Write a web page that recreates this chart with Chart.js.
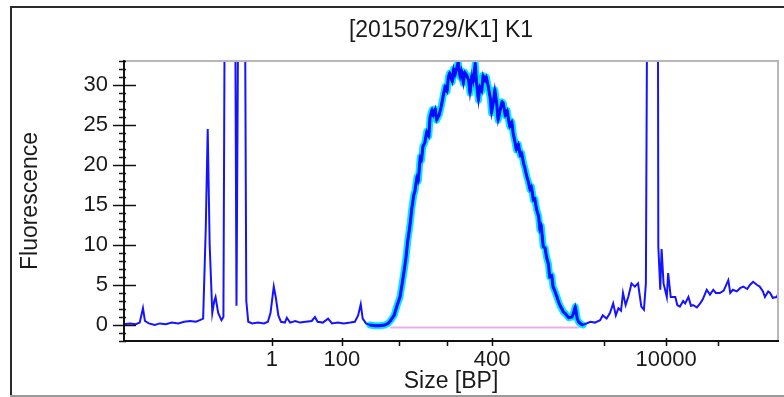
<!DOCTYPE html>
<html>
<head>
<meta charset="utf-8">
<script src="https://cdn.jsdelivr.net/npm/chart.js@4.4.1/dist/chart.umd.min.js"></script>
<style>
  html, body { margin: 0; padding: 0; background: #fff; }
  #wrap { width: 784px; height: 397px; position: relative; }
</style>
</head>
<body>
<div id="wrap"><canvas id="c" width="784" height="397"></canvas></div>
<script>
// ---- DATA ----
const chartTitle = '[20150729/K1] K1';
const xAxisTitle = 'Size [BP]';
const yAxisTitle = 'Fluorescence';

// migration position (arbitrary units) of each sample
const xPos = [
  0, 0.9, 1.8, 2.4, 2.9, 3.2, 3.8, 4.7, 5.5, 6.4, 7.3, 8.3, 9.2, 10.1, 11.0, 11.6,
  12.1, 12.5, 12.8, 13.1, 13.5, 13.8, 14.0, 14.2, 14.4, 14.9, 15.2, 15.5, 16.9, 17.2,
  17.6, 18.4, 18.7, 19.0, 19.6, 20.5, 21.4, 22.0, 22.4, 22.9, 23.2, 23.6, 24.0, 24.6,
  24.9, 25.4, 26.2, 26.9, 27.8, 28.7, 29.2, 29.6, 30.4, 31.2, 31.8, 32.7, 33.6, 34.6,
  35.3, 35.8, 36.2, 36.5, 37.0, 37.6, 38.4, 39.1,
  39.9, 40.4, 40.8, 41.3, 41.7, 42.2, 42.5, 42.8, 43.1, 43.4, 43.7, 44.0, 44.3, 44.5,
  44.8, 45.0, 45.3, 45.5, 45.7, 46.0, 46.3, 46.6, 46.8, 47.1, 47.3, 47.6, 47.8, 48.2,
  48.5, 48.8, 49.1, 49.4, 49.6, 49.8, 50.2, 50.4, 50.6, 50.9, 51.1, 51.4, 51.6, 51.9,
  52.1, 52.4, 52.7, 52.9, 53.2, 53.4, 53.7, 53.9, 54.2, 54.4, 54.7, 54.9, 55.2, 55.4,
  55.7, 56.0, 56.2, 56.5, 56.7, 57.0, 57.2, 57.5, 57.8, 58.0, 58.3, 58.6, 58.8, 59.0,
  59.3, 59.5, 59.8, 60.0, 60.3, 60.6, 60.8, 61.1, 61.3, 61.6, 61.8, 62.1, 62.3, 62.6,
  62.8, 63.1, 63.4, 63.6, 63.8, 64.1, 64.4, 64.6, 64.9, 65.1, 65.4, 65.6, 65.9, 66.2,
  66.4, 66.7, 66.9, 67.2, 67.4, 67.7, 68.0, 68.5, 68.7, 69.0, 69.3, 69.5, 69.9, 70.2,
  71.3, 72.0, 72.8, 73.2, 73.8, 74.3, 74.8, 75.2, 75.6, 76.0, 76.3,
  76.7, 77.1, 77.6, 78.1, 78.6, 79.1, 79.5, 79.8, 80.1, 81.6, 81.7, 82.0, 82.2, 82.5,
  83.0, 83.2, 83.6, 84.3, 84.6, 85.0, 85.5, 85.8, 86.3, 86.7, 87.0, 87.6, 88.1, 88.5,
  89.1, 89.6, 90.1, 90.5, 91.1, 91.7, 92.4, 92.7, 93.1, 93.7, 94.2, 94.7, 95.3, 95.7,
  96.2, 96.8, 97.2, 97.7, 98.0, 98.5, 98.8, 99.2, 99.8, 100
];
// fluorescence reading at each position
const fluor = [
  0.1, 0.2, 0.1, 0.3, 2.1, 0.5, 0.2, 0.0, 0.2, 0.1, 0.3, 0.2, 0.4, 0.5, 0.4, 0.6,
  0.8, 12, 24.5, 10, 1.5, 3.0, 3.5, 2.5, 1.5, 0.6, 1.0, 60, 60, 2.4,
  60, 60, 3, 0.4, 0.2, 0.3, 0.2, 0.4, 1.5, 4.8, 3.5, 1.2, 0.4, 0.3,
  0.9, 0.3, 0.5, 0.3, 0.4, 0.5, 1.0, 0.4, 0.3, 0.8, 0.2, 0.3, 0.2, 0.3,
  0.4, 1.2, 2.6, 0.8, 0.2, 0.0, -0.1, -0.1,
  0.0, 0.2, 0.6, 1.2, 2.3, 3.5, 5.0, 6.6, 8.3, 10.6, 12.3, 14.5, 16.2, 16.8,
  18.5, 18.0, 21.0, 20.6, 22.3, 22.8, 24.2, 23.6, 26.0, 26.9, 26.2, 27.0, 25.6, 26.3,
  27.3, 28.6, 29.8, 29.2, 31.0, 31.5, 30.4, 32.0, 31.2, 32.2, 32.9, 31.0, 31.8, 30.2,
  31.6, 31.2, 30.6, 29.0, 31.2, 30.4, 32.7, 30.3, 28.1, 29.8, 29.2, 31.2, 30.5, 31.0,
  29.8, 28.4, 26.5, 28.0, 29.4, 27.6, 25.6, 26.8, 27.9, 27.7, 26.2, 26.8, 25.6, 24.8,
  25.4, 24.0, 22.8, 21.9, 22.6, 21.2, 21.5, 20.2, 19.6, 18.5, 18.0, 16.9, 17.3, 15.6,
  15.8, 14.4, 13.6, 11.9, 12.4, 9.8, 9.6, 8.5, 7.6, 6.0, 6.2, 4.8, 4.2, 3.5,
  3.0, 2.4, 2.1, 1.6, 1.5, 1.2, 0.9, 1.0, 1.4, 2.3, 0.8, 0.4, 0.1, 0.0,
  0.4, 0.3, 0.6, 1.2, 0.8, 1.5, 2.7, 1.2, 2.1, 1.8, 4.0,
  2.5, 3.5, 5.2, 4.8, 5.2, 2.3, 1.9, 5.2, 60, 60, 9.8, 4.4, 9.5, 5.2,
  3.5, 6.5, 3.5, 3.5, 2.5, 2.3, 3.0, 2.7, 3.5, 2.4, 2.5, 2.2, 2.7, 3.2,
  4.4, 3.8, 4.4, 4.0, 4.0, 4.3, 5.6, 4.0, 4.4, 4.2, 4.6, 4.8, 4.5, 5.0,
  5.4, 5.0, 4.8, 4.2, 3.5, 4.2, 4.0, 3.4, 3.5, 3.8
];

// range of the integrated peak (highlighted) and its baseline
const peakRange = [37.6, 70.2];
const baselineX = [40.7, 69.6];
const baselineY = [-0.3, -0.3];

// axis ticks
const xTickPos = [22.6, 33.3, 42.0, 49.4, 56.3, 73.4, 82.9, 90.8];
const xTickLabels = ['1', '100', '', '', '400', '', '10000', ''];
const yTicks = [0, 5, 10, 15, 20, 25, 30];
const xRange = [0, 100];
const yRange = [-2, 33];

// ---- BUILD ----
const mainPts = xPos.map((x, i) => ({x: x, y: fluor[i]}));
const peakPts = mainPts.filter(p => p.x >= peakRange[0] && p.x <= peakRange[1]);
const basePts = baselineX.map((x, i) => ({x: x, y: baselineY[i]}));

const FONT = '"Liberation Sans", Arial, sans-serif';

const framePlugin = {
  id: 'frame',
  beforeDraw(chart) {
    const ctx = chart.ctx;
    ctx.save();
    ctx.fillStyle = '#fff';
    ctx.fillRect(0, 0, chart.width, chart.height);
    ctx.strokeStyle = '#2a2a2a';
    ctx.lineWidth = 2;
    ctx.beginPath();
    ctx.moveTo(11, 396);
    ctx.lineTo(11, 7);
    ctx.lineTo(chart.width + 5, 7);
    ctx.stroke();
    ctx.strokeStyle = '#9a9a9a';
    ctx.beginPath();
    ctx.moveTo(10, 396);
    ctx.lineTo(chart.width + 5, 396);
    ctx.stroke();
    // title
    ctx.fillStyle = '#1a1a1a';
    ctx.font = '23px ' + FONT;
    ctx.textAlign = 'center';
    ctx.textBaseline = 'middle';
    const a = chart.chartArea;
    ctx.fillText(chartTitle, (a.left + a.right) / 2 - 10, 31);
    ctx.restore();
  },
  afterDatasetsDraw(chart) {
    const ctx = chart.ctx;
    const {left, right, top, bottom} = chart.chartArea;
    const xs = chart.scales.x, ys = chart.scales.y;
    ctx.save();
    ctx.lineWidth = 2;
    ctx.strokeStyle = '#b8b8b8';
    ctx.beginPath();
    ctx.moveTo(left, top);
    ctx.lineTo(right, top);
    ctx.lineTo(right, bottom);
    ctx.stroke();
    ctx.strokeStyle = '#111';
    ctx.beginPath();
    ctx.moveTo(left, top - 1);
    ctx.lineTo(left, bottom);
    ctx.lineTo(right + 1, bottom);
    ctx.stroke();
    // y ticks: major at labels, minor every unit
    ctx.lineWidth = 1.5;
    for (let v = Math.ceil(ys.min); v <= Math.floor(ys.max); v++) {
      const py = Math.round(ys.getPixelForValue(v)) + 0.5;
      ctx.beginPath();
      if (yTicks.includes(v)) {
        ctx.moveTo(left - 11, py);
        ctx.lineTo(left + 12, py);
      } else {
        ctx.moveTo(left - 5, py);
        ctx.lineTo(left + 2, py);
      }
      ctx.stroke();
    }
    // x ticks
    xTickPos.forEach((p, i) => {
      const px = Math.round(xs.getPixelForValue(p)) + 0.5;
      ctx.beginPath();
      ctx.moveTo(px, bottom - (xTickLabels[i] ? 3 : 0));
      ctx.lineTo(px, bottom + 5);
      ctx.stroke();
    });
    ctx.restore();
  }
};

new Chart(document.getElementById('c'), {
  type: 'line',
  data: {
    datasets: [
      { data: peakPts, borderColor: '#0a0aff', borderWidth: 3, borderJoinStyle: 'round', pointRadius: 0, tension: 0, order: 0, clip: 0 },
      { data: mainPts, borderColor: '#1414ff', borderWidth: 2, pointRadius: 0, tension: 0, order: 1, clip: 0 },
      { data: peakPts, borderColor: '#00e8ff', borderWidth: 7, borderJoinStyle: 'round', borderCapStyle: 'round', pointRadius: 0, tension: 0, order: 2, clip: 0 },
      { data: basePts, borderColor: '#e8b0e8', borderWidth: 2, pointRadius: 0, tension: 0, order: 3, clip: 0 }
    ]
  },
  plugins: [framePlugin],
  options: {
    responsive: false,
    animation: false,
    events: [],
    layout: { padding: { left: 12, right: 6, top: 61, bottom: 2 } },
    plugins: { legend: { display: false }, tooltip: { enabled: false }, title: { display: false } },
    scales: {
      x: {
        type: 'linear',
        min: xRange[0], max: xRange[1],
        afterBuildTicks: (axis) => { axis.ticks = xTickPos.map(v => ({value: v})); },
        afterFit: (axis) => { axis.height = 54; },
        grid: { display: false, drawTicks: false },
        border: { display: false },
        ticks: {
          autoSkip: false, maxRotation: 0, padding: 6,
          color: '#1a1a1a', font: { family: FONT, size: 22 },
          callback: (v) => { const i = xTickPos.indexOf(v); return i >= 0 ? xTickLabels[i] : ''; }
        },
        title: { display: true, text: xAxisTitle, color: '#1a1a1a', font: { family: FONT, size: 23 }, padding: { top: 0, bottom: 0 } }
      },
      y: {
        type: 'linear',
        min: yRange[0], max: yRange[1],
        afterBuildTicks: (axis) => { axis.ticks = yTicks.map(v => ({value: v})); },
        afterFit: (axis) => { axis.width = 112; },
        grid: { display: false, drawTicks: false },
        border: { display: false },
        ticks: { padding: 16, color: '#1a1a1a', font: { family: FONT, size: 22 } },
        title: { display: true, text: yAxisTitle, color: '#1a1a1a', font: { family: FONT, size: 23 }, padding: { top: 5, bottom: 0 } }
      }
    }
  }
});
</script>
</body>
</html>
